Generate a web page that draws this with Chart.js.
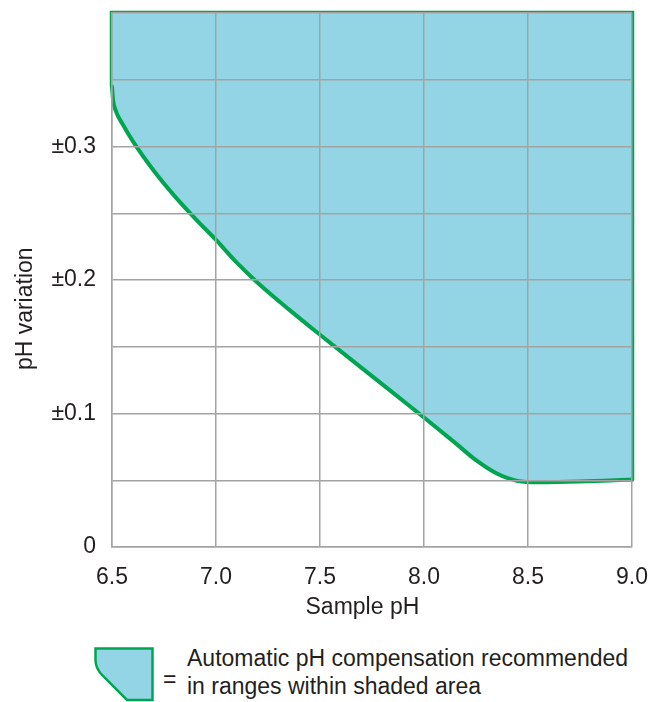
<!DOCTYPE html>
<html>
<head>
<meta charset="utf-8">
<script src="https://cdn.jsdelivr.net/npm/chart.js@4"></script>
<style>
html,body{margin:0;padding:0;background:#fff;}
#wrap{position:relative;width:657px;height:702px;overflow:hidden;font-family:"Liberation Sans",Arial,sans-serif;color:#231f20;}
#c{position:absolute;left:0;top:0;}
#legend-icon{position:absolute;left:93px;top:646px;}
#eq{position:absolute;left:163px;top:665px;font-size:23px;line-height:28px;}
#legend-text{position:absolute;left:187px;top:644px;font-size:23px;line-height:28px;white-space:nowrap;}
</style>
</head>
<body>
<div id="wrap">
  <canvas id="c" width="657" height="640"></canvas>
  <svg id="legend-icon" width="62" height="57" viewBox="0 0 62 57">
    <path d="M2.5 2.5 H59.5 V54 H34 L9 29 Q2.5 22 2.5 14 Z" fill="#94d5e5" stroke="#00a551" stroke-width="2.5" stroke-linejoin="miter"/>
  </svg>
  <div id="eq">=</div>
  <div id="legend-text">Automatic pH compensation recommended<br>in ranges within shaded area</div>
</div>
<script>
// ---- data ----
const xTickLabels = ['6.5', '7.0', '7.5', '8.0', '8.5', '9.0'];
const yTickLabels = ['0', '±0.1', '±0.2', '±0.3'];
const xTitle = 'Sample pH';
const yTitle = 'pH variation';

// lower boundary of the shaded region (curve)
const curvePH = [6.5, 6.505, 6.52, 6.55, 6.6, 6.7, 6.8, 6.9, 7.0, 7.1, 7.2, 7.35, 7.5, 7.75, 8.0, 8.15, 8.25, 8.35, 8.45, 8.55, 8.75, 9.0];
const curveVariation = [0.345, 0.335, 0.326, 0.317, 0.304, 0.282, 0.263, 0.246, 0.230, 0.213, 0.198, 0.178, 0.159, 0.128, 0.097, 0.078, 0.065, 0.055, 0.0495, 0.0485, 0.049, 0.0505];

// outer frame of the shaded region
const framePH = [6.5, 6.5, 9.0, 9.0];
const frameVariation = [0.345, 0.4, 0.4, 0.0505];

const GREEN = '#00a551';
const FILL = '#94d5e5';
const GRID = '#a3a3a3';
const TEXT = '#231f20';

Chart.defaults.font.family = '"Liberation Sans", Arial, sans-serif';
Chart.defaults.font.size = 23;
Chart.defaults.color = TEXT;

const toPts = (xs, ys) => xs.map((x, i) => ({ x: x, y: ys[i] }));
const noEdgePadding = (s) => { s.paddingTop = 0; s.paddingBottom = 0; s.paddingLeft = 0; s.paddingRight = 0; };

new Chart(document.getElementById('c'), {
  type: 'line',
  data: {
    datasets: [
      {
        data: toPts(curvePH, curveVariation),
        borderColor: GREEN,
        borderWidth: 4,
        backgroundColor: FILL,
        fill: 'end',
        pointRadius: 0,
        cubicInterpolationMode: 'monotone',
        borderCapStyle: 'round',
        clip: false
      },
      {
        data: toPts(framePH, frameVariation),
        borderColor: GREEN,
        borderWidth: 4.5,
        fill: false,
        pointRadius: 0,
        tension: 0,
        borderJoinStyle: 'miter',
        borderCapStyle: 'round',
        clip: false
      }
    ]
  },
  options: {
    responsive: false,
    devicePixelRatio: 1,
    animation: false,
    layout: { padding: { top: 13, right: 25, left: 0, bottom: 0 } },
    plugins: { legend: { display: false }, tooltip: { enabled: false } },
    scales: {
      x: {
        type: 'linear',
        min: 6.5,
        max: 9.0,
        afterFit: (s) => { s.height = 93; noEdgePadding(s); },
        ticks: {
          stepSize: 0.5,
          padding: 17,
          callback: (v, i) => xTickLabels[i]
        },
        grid: { color: GRID, lineWidth: 1.5, drawTicks: false, z: 1 },
        border: { color: GRID, width: 1.5, z: 1 },
        title: {
          display: true,
          text: xTitle + '   ',
          padding: { top: 0, bottom: 19 }
        }
      },
      y: {
        type: 'linear',
        min: 0,
        max: 0.4,
        afterFit: (s) => { s.width = 112; noEdgePadding(s); },
        ticks: {
          stepSize: 0.05,
          padding: 16,
          callback: (v, i) => (i % 2 === 0 && yTickLabels[i / 2] !== undefined) ? yTickLabels[i / 2] : ''
        },
        grid: { color: GRID, lineWidth: 1.5, drawTicks: false, z: 1 },
        border: { color: GRID, width: 1.5, z: 1 },
        title: {
          display: true,
          text: yTitle + '         ',
          padding: { top: 12, bottom: 0 }
        }
      }
    }
  }
});
</script>
</body>
</html>
